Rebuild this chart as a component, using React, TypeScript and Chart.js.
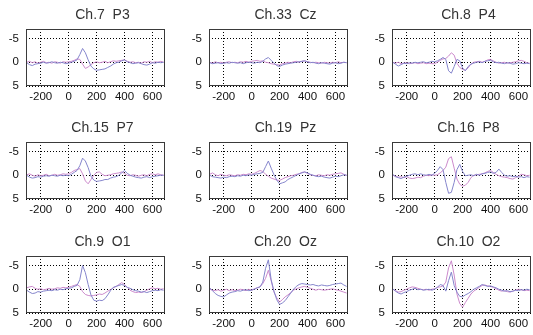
import { useEffect, useRef } from 'react';
import { Chart, registerables } from 'chart.js';

Chart.register(...registerables);

const TIMES = [-300, -280, -260, -240, -220, -200, -180, -160, -140, -120, -100, -80, -60, -40, -20, 0, 20, 40, 60, 80, 100, 120, 140, 160, 180, 200, 220, 240, 260, 280, 300, 320, 340, 360, 380, 400, 420, 440, 460, 480, 500, 520, 540, 560, 580, 600, 620, 640, 660, 680];
const X_TICKS = [-200, 0, 200, 400, 600];
const Y_TICKS = [-5, 0, 5];
const TITLES = ['Ch.7 P3', 'Ch.33 Cz', 'Ch.8 P4', 'Ch.15 P7', 'Ch.19 Pz', 'Ch.16 P8', 'Ch.9 O1', 'Ch.20 Oz', 'Ch.10 O2'];

const P3_A = [0.1, 0.5, 0.7, 0.4, 0.3, 0.2, 0.0, 0.2, 0.1, -0.1, 0.1, 0.2, 0.0, 0.1, 0.3, 0.2, 0.0, -0.2, -0.5, -1.6, -2.9, -2.0, -0.5, 0.8, 1.4, 1.7, 1.6, 1.5, 1.4, 1.1, 0.8, 0.4, 0.1, 0.0, -0.3, -0.5, -0.1, 0.1, 0.3, 0.2, 0.1, 0.3, 0.5, 0.6, 0.4, 0.1, 0.2, 0.0, 0.1, 0.0];
const P3_B = [0.0, -0.2, 0.1, -0.1, 0.2, 0.0, -0.2, 0.1, 0.0, 0.2, -0.1, 0.0, 0.2, -0.1, 0.0, -0.1, -0.2, -0.4, -0.7, -0.6, 0.4, 1.3, 1.0, 0.5, 0.1, -0.1, 0.1, 0.0, -0.2, 0.1, -0.1, -0.3, -0.2, -0.3, -0.4, -0.5, -0.2, 0.0, -0.1, 0.1, 0.0, 0.2, -0.1, 0.0, -0.2, 0.1, -0.1, 0.0, -0.2, 0.0];
const CZ_A = [0.1, 0.3, 0.2, 0.1, 0.3, 0.2, 0.1, 0.2, 0.0, 0.1, 0.2, 0.1, 0.3, 0.1, 0.0, 0.1, 0.2, 0.0, 0.1, -0.2, -0.7, -1.0, -0.4, 0.2, 0.7, 0.9, 0.6, 0.4, 0.3, 0.2, 0.1, 0.0, -0.1, -0.2, -0.3, -0.1, 0.1, 0.0, 0.2, 0.3, 0.1, 0.2, 0.3, 0.4, 0.2, 0.1, 0.3, 0.2, 0.0, 0.1];
const CZ_B = [0.0, 0.2, -0.1, 0.1, 0.0, 0.2, 0.0, -0.1, 0.1, 0.0, 0.1, -0.1, 0.0, -0.2, 0.0, -0.2, -0.3, -0.4, -0.2, -0.3, 0.0, 0.1, 0.3, 0.4, 0.5, 0.6, 0.3, 0.2, 0.0, 0.1, -0.1, -0.2, 0.0, -0.2, -0.3, -0.1, 0.0, 0.1, 0.0, 0.1, 0.2, 0.0, 0.1, 0.2, 0.0, 0.1, -0.1, 0.1, 0.0, 0.1];
const P4_A = [0.0, 0.4, 0.8, 0.5, 0.2, 0.3, 0.1, 0.2, 0.0, 0.1, 0.0, -0.1, 0.1, 0.0, -0.2, -0.1, -0.3, -0.6, -1.0, -0.6, 1.8, 2.3, 0.9, -0.6, -0.3, 1.2, 1.8, 0.9, 0.4, 0.2, 0.0, -0.1, 0.1, -0.2, -0.3, -0.4, -0.1, 0.1, 0.0, 0.2, 0.3, 0.1, 0.2, 0.4, 0.3, 0.1, 0.2, 0.3, 0.2, 0.3];
const P4_B = [0.0, 0.2, 0.0, 0.3, 0.2, 0.1, 0.3, 0.2, 0.1, 0.3, 0.2, 0.1, 0.3, 0.2, 0.3, 0.3, 0.0, -0.4, -0.7, -0.8, -1.3, -2.0, -1.5, 0.2, 1.1, 1.5, 1.7, 1.2, 0.4, 0.0, -0.1, -0.2, 0.0, -0.2, -0.5, -0.6, -0.3, 0.0, 0.2, 0.1, 0.0, 0.2, 0.1, 0.0, -0.1, -0.3, -0.4, -0.2, 0.1, 0.2];
const P7_A = [0.0, 0.4, 0.6, 0.5, 0.3, 0.4, 0.2, 0.1, 0.2, 0.0, 0.1, 0.2, 0.0, 0.1, 0.0, 0.1, -0.2, -0.6, -1.0, -2.0, -3.6, -3.0, -1.6, 0.2, 1.0, 1.3, 1.2, 1.1, 0.9, 0.9, 0.6, 0.4, 0.3, 0.0, -0.5, -1.0, -0.4, 0.0, 0.2, 0.4, 0.5, 0.6, 0.4, 0.3, 0.5, 0.3, 0.2, 0.1, 0.0, 0.0];
const P7_B = [-0.1, -0.3, 0.0, 0.2, -0.1, 0.1, 0.0, -0.2, 0.1, 0.0, -0.2, 0.0, -0.1, -0.3, -0.2, -0.3, -0.6, -1.0, -1.2, -1.4, -0.3, 1.2, 1.8, 0.9, 0.0, -0.6, -0.7, -0.2, 0.1, 0.0, -0.1, -0.3, -0.4, -0.5, -0.7, -0.4, 0.0, 0.1, -0.1, 0.0, 0.2, 0.0, -0.1, 0.1, -0.2, -0.3, -0.1, -0.3, -0.1, 0.0];
const PZ_A = [0.0, 0.3, 0.4, 0.5, 0.6, 0.4, 0.5, 0.3, 0.2, 0.3, 0.1, 0.2, 0.0, 0.1, -0.1, 0.0, -0.2, -0.3, -0.4, -0.6, -1.8, -3.0, -1.5, -0.1, 1.0, 1.8, 1.6, 1.4, 0.9, 0.6, 0.3, 0.0, -0.3, -0.5, -0.7, -0.5, -0.2, 0.0, 0.2, 0.3, 0.2, 0.4, 0.5, 0.6, 0.4, 0.2, 0.3, 0.1, -0.1, 0.0];
const PZ_B = [-0.2, -0.5, -0.1, 0.1, -0.2, 0.0, 0.1, -0.1, 0.0, 0.1, -0.1, 0.0, -0.2, -0.1, -0.3, -0.2, -0.4, -0.7, -1.0, -0.8, -0.2, 0.2, 0.6, 0.8, 1.0, 1.1, 0.8, 0.5, 0.3, 0.1, 0.0, -0.2, -0.3, -0.6, -0.7, -0.4, -0.1, 0.0, 0.1, -0.1, 0.0, 0.1, -0.1, 0.0, -0.2, -0.3, -0.4, -0.5, -0.2, 0.0];
const P8_A = [-0.2, 0.3, 0.5, 0.7, 0.4, 0.2, 0.0, -0.2, -0.3, -0.1, -0.3, -0.1, 0.0, -0.2, 0.0, -0.4, -1.0, -1.8, -1.2, 1.5, 3.8, 3.6, 1.5, -1.2, -2.3, -0.8, 0.1, 0.0, -0.1, 0.1, -0.2, 0.0, -0.3, -0.4, -0.6, -0.7, -0.4, -0.6, -1.3, -0.6, 0.0, 0.2, 0.1, 0.3, 0.2, 0.4, 0.3, 0.5, 0.3, 0.4];
const P8_B = [0.0, 0.2, 0.4, 0.3, 0.5, 0.3, 0.6, 0.7, 0.6, 0.4, 0.5, 0.2, 0.0, 0.1, -0.1, 0.0, -0.1, -0.5, -1.0, -1.7, -3.5, -3.9, -1.5, 0.8, 1.9, 2.3, 2.1, 1.5, 0.5, 0.0, -0.1, -0.2, -0.3, -0.5, -0.8, -1.0, -0.6, -0.2, 0.1, 0.3, 0.4, 0.5, 0.7, 0.8, 0.5, 0.2, -0.2, -0.1, 0.1, 0.0];
const O1_A = [0.2, 0.6, 0.9, 0.8, 0.5, 0.6, 0.4, 0.3, 0.2, 0.3, 0.1, 0.2, 0.0, 0.1, -0.1, -0.2, -0.3, -0.6, -0.8, -2.0, -5.0, -3.5, -1.0, 1.2, 2.3, 2.5, 2.3, 2.4, 2.0, 1.2, 0.3, -0.4, -0.6, -0.8, -1.0, -0.8, -0.4, -0.2, 0.1, 0.3, 0.4, 0.6, 0.5, 0.7, 0.5, 0.3, 0.2, 0.3, 0.1, 0.2];
const O1_B = [-0.3, -0.5, -0.6, -0.2, 0.0, -0.1, 0.1, 0.0, -0.2, 0.0, -0.1, -0.3, -0.2, -0.4, -0.3, -0.4, -0.6, -0.8, -1.0, -0.6, 0.5, 1.1, 1.3, 1.4, 1.3, 1.2, 1.0, 1.1, 0.8, 0.4, 0.1, -0.3, -0.6, -1.0, -1.4, -1.0, -0.4, 0.2, 0.5, 0.7, 0.6, 0.7, 0.5, 0.2, -0.1, -0.3, -0.1, -0.2, 0.0, -0.1];
const OZ_A = [-0.3, 0.3, 0.9, 1.3, 1.5, 1.6, 1.2, 0.8, 0.6, 0.5, 0.3, 0.4, 0.2, 0.1, 0.3, 0.2, 0.0, -0.3, -0.5, -1.5, -4.4, -6.2, -2.0, 0.4, 2.2, 3.2, 2.9, 2.4, 1.6, 0.8, 0.0, -0.6, -1.0, -1.2, -1.1, -1.0, -0.9, -1.0, -0.8, -0.7, -0.9, -0.8, -0.7, -0.8, -1.0, -1.1, -1.2, -1.3, -0.9, -0.6];
const OZ_B = [0.0, 0.2, 0.3, 0.1, 0.4, 0.2, 0.0, 0.3, 0.1, 0.3, 0.2, 0.0, 0.1, 0.3, 0.0, 0.2, -0.1, -0.3, -0.5, -1.2, -2.3, -4.0, -1.8, 0.6, 1.8, 2.7, 2.2, 1.6, 1.2, 0.7, 0.2, -0.1, -0.3, -0.5, -0.6, -0.4, -0.2, 0.0, 0.2, 0.0, 0.1, 0.2, 0.1, 0.0, -0.1, 0.1, 0.2, 0.4, 0.6, 0.8];
const O2_A = [-0.1, 0.4, 0.8, 1.0, 0.7, 0.5, 0.2, 0.0, -0.2, 0.1, 0.0, 0.2, 0.1, 0.0, 0.2, 0.0, -0.4, -1.0, -0.8, 0.4, -1.8, -3.6, -0.8, 0.6, 1.5, 1.6, 1.2, 0.9, 0.5, 0.0, -0.3, -0.6, -1.0, -0.8, -0.6, -0.7, -0.5, -0.3, 0.0, 0.2, 0.4, 0.3, 0.5, 0.4, 0.2, 0.3, 0.1, 0.2, 0.0, 0.1];
const O2_B = [0.0, 0.3, 0.6, 0.5, 0.2, 0.0, -0.3, -0.5, -0.4, -0.2, 0.0, 0.1, 0.0, 0.2, 0.0, -0.1, -0.4, -0.5, -0.7, -1.5, -4.5, -6.0, -3.0, 1.0, 3.0, 3.8, 2.8, 1.9, 1.0, 0.4, 0.0, -0.4, -0.8, -0.9, -0.7, -0.6, -0.4, -0.1, 0.2, 0.4, 0.3, 0.5, 0.6, 0.4, 0.2, 0.0, 0.1, 0.3, 0.2, 0.3];

const SERIES_A = [P3_A, CZ_A, P4_A, P7_A, PZ_A, P8_A, O1_A, OZ_A, O2_A];
const SERIES_B = [P3_B, CZ_B, P4_B, P7_B, PZ_B, P8_B, O1_B, OZ_B, O2_B];

const COLOR_A = '#8585cc';
const COLOR_B = '#cc8acc';
const FONT = '"Liberation Sans", Arial, sans-serif';

const CANVAS_W = 171;
const CANVAS_H = 108;
const COL_X = [0, 183, 366];
const ROW_Y = [0, 113, 227];

const boxPlugin = {
  id: 'boxTitle',
  afterDraw(chart: any) {
    const { ctx, chartArea: a } = chart;
    ctx.save();
    ctx.strokeStyle = '#3a3a3a';
    ctx.lineWidth = 1;
    ctx.setLineDash([]);
    const l = Math.round(a.left) + 0.5;
    const t = Math.round(a.top) + 0.5;
    const r = Math.round(a.right) - 0.5;
    const b = Math.round(a.bottom) - 0.5;
    ctx.strokeRect(l, t, r - l, b - t);
    const title = chart.options.plugins.boxTitle.text;
    ctx.font = '14px ' + FONT;
    ctx.fillStyle = '#333';
    ctx.textAlign = 'center';
    ctx.textBaseline = 'middle';
    ctx.fillText(title.replace(' ', '  '), (a.left + a.right) / 2 + 7, a.top - 13.5);
    ctx.restore();
  },
};

function Panel({ idx }: { idx: number }) {
  const ref = useRef<HTMLCanvasElement>(null);
  useEffect(() => {
    if (!ref.current) return;
    const chart = new Chart(ref.current, {
      type: 'line',
      data: {
        datasets: [
          {
            label: 'A',
            data: TIMES.map((t, i) => ({ x: t, y: SERIES_A[idx][i] })),
            borderColor: COLOR_A,
            borderWidth: 1,
            pointRadius: 0,
            tension: 0,
          },
          {
            label: 'B',
            data: TIMES.map((t, i) => ({ x: t, y: SERIES_B[idx][i] })),
            borderColor: COLOR_B,
            borderWidth: 1,
            pointRadius: 0,
            tension: 0,
          },
        ],
      },
      options: {
        responsive: false,
        animation: false,
        events: [],
        layout: { padding: { left: 0, right: 6, top: 29, bottom: 0 } },
        plugins: {
          legend: { display: false },
          tooltip: { enabled: false },
          title: { display: false },
          boxTitle: { text: TITLES[idx] },
        } as any,
        scales: {
          x: {
            type: 'linear',
            min: -305,
            max: 690,
            afterBuildTicks: (s: any) => {
              s.ticks = X_TICKS.map((v) => ({ value: v }));
            },
            afterFit: (s: any) => {
              s.height = 22;
            },
            grid: { color: '#000', lineWidth: 1, drawTicks: false },
            border: { display: false, dash: [1, 2] },
            ticks: {
              autoSkip: false,
              maxRotation: 0,
              padding: 4,
              color: '#111',
              font: { family: FONT, size: 11.5 },
            },
          },
          y: {
            type: 'linear',
            reverse: true,
            min: -7,
            max: 5,
            afterBuildTicks: (s: any) => {
              s.ticks = Y_TICKS.map((v) => ({ value: v }));
            },
            afterFit: (s: any) => {
              s.width = 26;
            },
            grid: { color: '#000', lineWidth: 1, drawTicks: false },
            border: { display: false, dash: [1, 2] },
            ticks: {
              padding: 7,
              color: '#111',
              font: { family: FONT, size: 11.5 },
            },
          },
        },
      },
      plugins: [boxPlugin],
    });
    return () => chart.destroy();
  }, [idx]);
  const col = idx % 3;
  const row = Math.floor(idx / 3);
  return (
    <canvas
      ref={ref}
      width={CANVAS_W}
      height={CANVAS_H}
      style={{ position: 'absolute', left: COL_X[col], top: ROW_Y[row], width: CANVAS_W, height: CANVAS_H }}
    />
  );
}

export default function App() {
  return (
    <div style={{ position: 'absolute', left: 0, top: 0, width: 533, height: 335, background: '#fff' }}>
      {TITLES.map((_, i) => (
        <Panel key={i} idx={i} />
      ))}
    </div>
  );
}
